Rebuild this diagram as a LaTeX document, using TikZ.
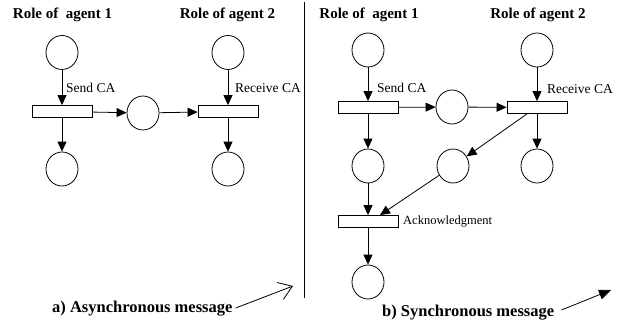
\documentclass[tikz,border=0pt]{standalone}
\usepackage{fontspec}
\setmainfont{Liberation Serif}
\usetikzlibrary{shapes.geometric,arrows.meta,calc}
\begin{document}
\begin{tikzpicture}[x=1pt,y=-1pt,
 place/.style={draw, ellipse, minimum width=32pt, minimum height=34pt, inner sep=0pt, line width=0.8pt},
 trans/.style={draw, rectangle, minimum width=60pt, minimum height=12pt, inner sep=0pt, line width=0.8pt},
 arc/.style={line width=0.8pt, -{Triangle[length=10pt,width=9pt]}},
 roletitle/.style={font=\bfseries\fontsize{15}{18}\selectfont, inner sep=0pt},
 lbl/.style={font=\fontsize{13.5}{16}\selectfont, inner sep=0pt, anchor=west},
 acklbl/.style={font=\fontsize{12.5}{15}\selectfont, inner sep=0pt, anchor=west},
 capt/.style={font=\bfseries\fontsize{16.5}{20}\selectfont, inner sep=0pt, anchor=west}]
\useasboundingbox (0,0) rectangle (624,324);

% ---------- titles ----------
\node[roletitle] (tA1) at (62.5,15) {Role of~ agent 1};
\node[roletitle] (tA2) at (227.5,15) {Role of agent 2};
\node[roletitle] (tB1) at (369,15) {Role of~ agent 1};
\node[roletitle] (tB2) at (538,15) {Role of agent 2};

% ---------- left panel ----------
\node[place] (a1) at (62,52.5) {};
\node[trans] (at1) at (62,111.5) {};
\node[place] (a2) at (62,169) {};
\node[place] (am) at (143,113) {};
\node[place] (a3) at (228,52.5) {};
\node[trans] (at2) at (228,111.5) {};
\node[place] (a4) at (228,169) {};

\draw[arc] (a1) -- (at1);
\draw[arc] (at1) -- (a2);
\draw[arc] (at1) -- (am);
\draw[arc] (am) -- (at2);
\draw[arc] (a3) -- (at2);
\draw[arc] (at2) -- (a4);

\node[lbl] (lsA) at (66,88) {Send CA};
\node[lbl] (lrA) at (235,88) {Receive CA};

% ---------- divider ----------
\coordinate (divT) at (304,2);
\coordinate (divB) at (304,298);
\draw[line width=0.8pt] (divT) -- (divB);

% ---------- right panel ----------
\node[place] (b1) at (368,50) {};
\node[trans] (bt1) at (368,107.5) {};
\node[place] (b2) at (368,166) {};
\node[place] (bm) at (452,107) {};
\node[place] (b3) at (537,50) {};
\node[trans] (bt2) at (537,107.5) {};
\node[place] (b4) at (537,166) {};
\node[place] (b5) at (453,166) {};
\node[trans] (ack) at (368,221.5) {};
\node[place] (b6) at (368,282) {};

\draw[arc] (b1) -- (bt1);
\draw[arc] (bt1) -- (b2);
\draw[arc] (bt1) -- (bm);
\draw[arc] (bm) -- (bt2);
\draw[arc] (b3) -- (bt2);
\draw[arc] (bt2) -- (b4);
\draw[arc] ($(bt2.south)+(-10,0)$) -- (b5);
\draw[arc] (b5) -- ($(ack.north)+(12,0)$);
\draw[arc] (b2) -- (ack);
\draw[arc] (ack) -- (b6);

\node[lbl] (lsB) at (377,88) {Send CA};
\node[lbl] (lrB) at (547,89) {Receive CA};
\node[acklbl] (lack) at (403,222) {Acknowledgment};

% ---------- captions ----------
\node[capt] (capA) at (52,309) {a) Asynchronous message};
\node[capt] (capB) at (382,313) {b) Synchronous message};
\coordinate (capAend) at (293,286);
\coordinate (capBend) at (611,290);
\draw[line width=0.8pt, -{Straight Barb[length=13pt,width=18pt]}] ($(capA.east)+(3,-1)$) -- (capAend);
\draw[line width=0.8pt, -{Triangle[length=12pt,width=10pt]}] ($(capB.east)+(7,-3)$) -- (capBend);
\end{tikzpicture}
\end{document}
